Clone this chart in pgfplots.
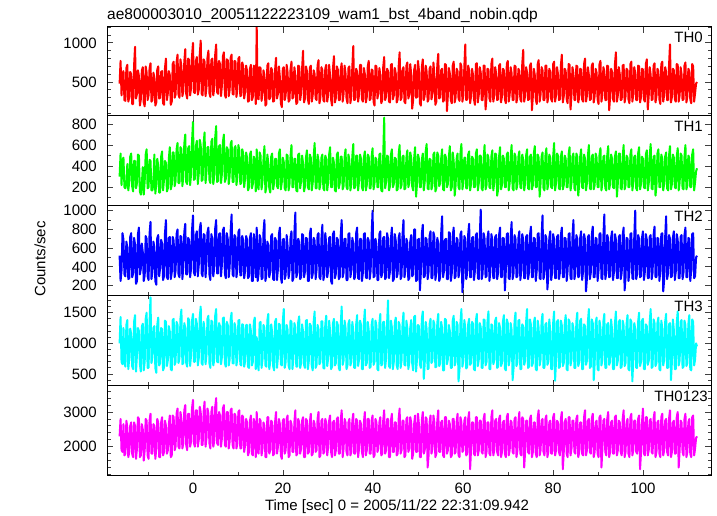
\documentclass[border=0pt]{standalone}
\usepackage{fontspec}
\setmainfont{Liberation Sans}
\usepackage{pgfplots}
\usepackage{pgfplotstable}
\pgfplotsset{compat=1.18}
\definecolor{cR}{RGB}{255,0,0}
\definecolor{cG}{RGB}{0,255,0}
\definecolor{cB}{RGB}{0,0,255}
\definecolor{cC}{RGB}{0,255,255}
\definecolor{cM}{RGB}{255,0,255}

\pgfplotstableread{
a b c d e
480 300 520 1000 2300
770 520 250 1430 2800
330 220 360 700 1900
600 460 760 660 1850
640 480 690 1250 2650
270 200 320 700 1750
260 190 300 620 1800
680 240 670 1300 2750
720 420 610 1380 2550
250 170 270 580 1700
310 250 280 760 1850
630 490 720 1240 2600
600 520 760 1150 2700
220 210 290 630 1800
220 160 330 580 1700
710 450 710 1350 2700
950 450 640 1460 2600
290 190 220 540 1650
350 240 250 820 1950
650 510 750 1250 2850
580 500 820 1200 2800
200 160 320 660 1700
280 130 380 540 1750
640 220 650 1270 2650
690 390 560 1320 2500
240 130 250 560 1600
190 260 310 700 1900
700 510 730 1400 2800
620 560 700 1500 2750
270 190 300 600 1750
330 200 260 600 1650
670 460 750 1330 2750
740 450 880 1750 2950
250 170 270 680 1800
270 170 350 780 1800
620 240 670 1250 2650
560 510 610 1280 2600
200 140 250 600 1650
240 230 210 520 1950
660 470 710 1300 2800
700 400 740 1420 2700
290 150 300 640 1700
300 150 390 680 1700
630 490 690 1250 2700
640 540 650 1230 2850
230 170 260 560 1750
210 270 300 610 1850
680 450 760 1370 2750
800 430 900 1350 2600
270 160 290 630 1800
360 190 270 730 1900
640 470 710 1280 2650
590 580 720 1190 2900
210 180 270 580 1700
250 220 340 560 1750
730 530 720 1380 2900
760 530 680 1400 2850
300 210 290 650 1900
340 260 360 700 2000
750 560 750 1350 2950
850 620 800 1300 3100
340 240 320 680 2000
300 240 290 760 1950
790 580 730 1400 3000
700 560 720 1550 2800
320 210 270 660 1950
380 300 400 680 2100
760 610 770 1330 3050
920 700 860 1250 3200
350 250 320 680 2050
290 230 320 620 1900
800 570 710 1410 2950
780 590 690 1380 2950
330 220 290 630 2000
420 320 380 800 2150
830 630 790 1370 3100
1000 820 950 1480 3350
370 270 340 700 2100
360 280 310 700 2000
770 590 740 1400 3050
820 640 780 1320 3050
340 230 300 640 2000
400 330 420 760 2200
850 650 800 1430 3150
1030 600 870 1600 3000
350 260 330 680 2050
330 270 300 650 2050
790 610 750 1350 3000
760 720 740 1200 3300
320 240 290 660 2000
440 350 450 820 2250
810 580 770 1400 3100
900 580 820 1450 2950
360 270 320 680 2100
310 240 260 600 1950
780 630 750 1370 3000
800 660 700 1350 3150
330 230 300 640 2000
420 300 390 730 2150
850 670 810 1450 3150
980 780 900 1560 3400
370 250 330 700 2100
350 260 330 690 2050
770 590 750 1330 3000
730 600 760 1280 2900
320 240 300 660 2000
460 330 430 780 2250
830 630 790 1410 3100
880 700 820 1420 3200
340 250 330 680 2050
300 280 280 620 2000
790 580 760 1350 3000
780 560 700 1300 3000
320 230 290 640 1950
400 310 400 740 2150
810 610 780 1390 3050
850 640 960 1500 3100
350 250 320 680 2050
340 250 300 670 1950
770 570 740 1330 2950
760 590 720 1250 2900
310 220 290 640 1950
420 300 380 760 2100
800 600 770 1370 3000
820 550 800 1380 3050
320 230 310 660 1950
330 240 310 640 1950
750 560 730 1310 2900
700 520 680 1300 2850
290 200 280 620 1850
380 290 360 710 2050
710 530 730 1300 2800
640 480 690 1300 2700
250 170 280 620 1750
260 200 300 600 1850
670 510 710 1310 2750
720 540 760 1200 2900
270 190 250 640 1800
310 230 250 700 1750
710 490 750 1350 2800
600 450 640 1420 2650
220 160 290 580 1700
1200 560 820 1100 3000
290 210 250 680 1850
280 180 330 560 1800
690 530 740 1330 2800
680 500 700 1350 2750
260 180 270 600 1750
350 260 280 740 1950
650 460 770 1300 2700
590 590 900 1250 2600
200 150 250 640 1700
220 210 320 620 1700
710 510 670 1370 2850
740 430 630 1480 2850
280 190 290 580 1800
300 150 350 700 1900
680 490 730 1310 2750
650 520 750 1180 2700
250 180 270 630 1750
260 240 260 560 1800
650 470 710 1350 2700
810 470 680 1400 3000
290 210 260 600 1800
350 190 380 780 2000
700 520 750 1320 2800
560 560 820 1300 2650
230 180 290 660 1750
180 250 230 640 1650
670 480 690 1350 2750
690 440 700 1560 2800
270 190 270 600 1800
330 170 310 700 1900
720 510 740 1300 2800
620 500 620 1220 2900
250 170 280 640 1700
270 230 360 580 1750
660 490 710 1370 2750
760 600 780 1350 2650
290 200 250 580 1850
310 200 280 760 1850
690 470 760 1330 2700
580 470 980 1260 3050
220 170 290 620 1750
240 160 330 620 1800
710 510 700 1350 2800
700 520 660 1440 2700
270 190 270 600 1800
360 260 290 680 1950
670 500 750 1310 2750
900 430 740 1190 2850
240 160 290 650 1700
290 210 350 600 1700
700 480 710 1370 2800
640 550 700 1380 2750
280 200 250 580 1800
220 180 250 720 1850
680 510 750 1320 2700
710 480 810 1290 2950
250 170 280 640 1750
330 240 320 560 1800
650 490 710 1350 2750
600 620 680 1520 2650
290 190 270 600 1850
270 190 370 650 1900
710 510 740 1300 2800
780 450 760 1230 3000
230 180 290 660 1700
310 230 270 700 1750
690 480 700 1360 2750
650 510 850 1360 2800
270 190 260 600 1800
250 170 310 590 1850
670 500 760 1310 2800
720 470 640 1450 2700
250 170 290 630 1750
340 250 360 760 2000
720 510 710 1370 2750
580 580 720 1200 2900
280 200 250 580 1850
200 200 220 620 1700
680 480 750 1330 2700
830 430 780 1400 2750
240 170 280 640 1750
300 160 330 680 1900
700 510 710 1350 2800
660 530 690 1300 2850
270 190 270 600 1800
270 240 290 560 1800
660 490 740 1300 2750
740 490 900 1600 3050
250 180 290 650 1700
350 210 340 720 1950
710 480 700 1370 2800
610 560 700 1250 2700
290 200 260 580 1850
230 180 260 640 1750
680 510 750 1320 2700
700 450 760 1380 2800
230 170 290 640 1750
320 230 360 700 1850
690 490 710 1350 2750
960 610 650 1200 2950
270 190 270 600 1800
280 200 300 600 1800
670 500 760 1310 2800
630 500 820 1460 2750
250 170 280 630 1700
340 260 270 740 1950
720 510 700 1370 2750
720 470 700 1300 2650
280 200 250 580 1850
250 170 340 580 1700
680 480 750 1330 2700
600 540 760 1550 3000
240 170 290 640 1750
310 220 280 680 1900
700 510 710 1350 2800
770 490 680 1220 2800
270 190 270 600 1800
290 190 360 620 1800
660 490 740 1300 2750
650 570 1000 1400 2900
250 180 290 650 1700
200 240 300 700 1750
710 480 700 1370 2800
700 460 640 1280 2700
290 200 260 580 1850
360 200 260 560 1950
680 510 750 1320 2700
590 520 780 1480 2850
230 170 290 640 1750
270 160 330 660 1800
690 490 710 1350 2750
820 860 720 1350 3050
270 190 270 600 1800
320 250 290 760 1900
670 500 760 1310 2800
640 490 700 1700 2800
250 170 280 630 1700
240 210 350 600 1700
720 510 700 1370 2750
730 560 820 1260 2950
280 200 250 580 1850
330 230 270 700 1850
680 480 750 1330 2700
610 470 680 1420 2700
240 170 290 640 1750
280 180 330 580 1800
700 510 710 1350 2800
880 600 760 1300 3100
270 190 270 600 1800
300 220 300 720 1900
660 490 740 1300 2750
690 500 900 1500 2750
250 180 290 650 1700
230 190 360 640 1750
710 480 700 1370 2800
750 550 660 1240 2850
290 200 260 580 1850
340 240 280 690 1950
730 530 670 1250 2850
600 480 740 1380 2700
160 210 300 680 1650
270 170 320 560 1800
650 470 800 1430 2650
720 580 800 1450 2900
300 110 250 540 1850
310 230 260 740 1850
770 510 690 1300 2950
650 470 700 1280 2650
230 200 150 660 1700
200 200 340 600 1700
690 460 750 1400 2750
790 520 850 1520 3000
270 170 290 420 1800
330 250 300 680 1900
710 540 710 1350 2850
630 610 690 1230 2800
250 190 270 580 1400
280 180 350 590 1750
670 470 730 1310 2700
700 460 780 1400 2900
280 180 280 680 1800
350 220 280 720 1950
750 510 770 1370 2900
590 530 720 1310 2700
210 160 260 610 1700
250 190 330 620 1800
710 530 710 1330 2750
860 500 650 1480 3050
290 210 250 630 1850
310 240 290 680 1850
650 470 750 1350 2700
670 560 940 1250 2750
250 180 290 560 1750
270 170 360 560 1700
730 510 690 1400 2850
720 480 700 1380 2850
130 200 270 660 1800
340 230 270 740 1900
680 490 770 1300 2750
610 590 760 1200 2650
270 170 250 600 1700
230 200 330 600 1750
710 530 730 1370 2800
760 450 820 1450 2800
240 120 280 640 1800
300 220 300 700 1850
670 470 710 1350 2700
640 520 690 1300 2950
290 200 290 380 1750
260 180 350 580 1700
740 520 750 1330 2850
700 610 780 1560 2700
250 180 130 620 1850
330 240 260 720 1900
690 480 730 1380 2750
980 480 700 1250 2850
270 190 270 590 1750
280 190 340 620 1800
710 510 750 1310 2800
650 540 860 1400 3000
230 170 290 650 1350
320 230 290 680 1950
670 490 710 1350 2700
590 470 720 1320 2700
280 200 260 580 1800
210 200 360 560 1750
730 520 740 1370 2850
740 560 760 1480 2850
240 170 280 630 1750
340 240 270 740 1900
690 500 720 1330 2750
620 500 1010 1260 2750
270 190 270 600 1850
270 170 330 600 1800
710 470 760 1390 2800
710 600 700 1380 2950
150 180 290 640 1700
310 220 300 700 1850
670 510 710 1350 2700
660 480 780 1520 2700
290 200 250 580 1800
250 190 350 580 1750
730 490 750 1310 2850
800 550 690 1290 3050
250 170 280 660 1750
330 240 280 720 1900
690 520 720 1370 2750
600 510 740 1420 2800
270 120 270 600 1850
280 180 340 620 1750
710 490 740 1330 2800
730 580 820 1250 2900
240 180 290 630 1700
320 220 290 680 1850
670 500 710 1350 2700
650 470 700 1460 2750
280 200 150 590 1800
230 200 360 560 1700
730 510 750 1390 2850
770 530 760 1330 2950
250 170 280 640 1750
340 240 270 740 1900
690 490 720 1330 2750
610 600 880 1220 2700
270 190 270 400 1850
270 170 330 600 1800
710 520 740 1350 2800
700 490 700 1500 2850
240 180 290 630 1700
310 230 300 700 1900
670 490 710 1370 2700
640 540 780 1380 3000
280 200 260 580 1800
250 190 350 580 1750
730 510 750 1310 2850
910 460 690 1280 2800
250 170 280 650 1400
330 240 280 720 1900
690 500 720 1350 2750
620 560 740 1560 2750
270 190 270 600 1850
280 180 340 620 1800
710 490 740 1390 2800
740 510 830 1300 2900
140 180 290 630 1700
320 220 290 680 1850
670 520 710 1330 2700
590 590 700 1420 2700
280 200 250 580 1800
220 200 360 560 1700
730 510 750 1370 2850
780 480 760 1250 3050
250 110 280 640 1750
340 240 270 740 1900
690 490 720 1350 2750
650 530 950 1480 2800
270 190 270 600 1850
270 170 330 600 1750
710 500 740 1310 2800
710 570 700 1330 2900
240 180 160 650 1700
310 230 300 700 1850
670 510 710 1390 2700
630 480 780 1200 2750
280 200 260 580 1800
250 190 350 580 1800
730 490 750 1330 2850
760 620 690 1520 2950
250 170 280 390 1750
330 240 280 720 1900
690 520 720 1350 2750
600 500 740 1380 2700
270 190 270 600 1850
280 180 340 620 1750
710 490 740 1370 2800
850 540 820 1290 3000
240 180 290 630 1350
320 220 290 680 1850
670 500 710 1310 2700
640 470 700 1460 2800
280 200 250 580 1800
230 200 360 560 1700
730 510 750 1390 2850
720 580 760 1350 2850
150 170 280 640 1750
340 240 270 740 1950
690 490 720 1330 2750
610 520 900 1240 2750
270 190 270 600 1850
270 170 330 600 1800
710 520 740 1350 2800
700 490 700 1500 2900
240 120 290 630 1700
310 230 300 700 1850
670 490 710 1370 2700
660 560 780 1400 2700
280 200 260 580 1800
250 190 350 580 1750
730 510 750 1310 2850
800 470 690 1280 3050
250 170 140 650 1750
330 240 280 720 1900
690 500 720 1350 2750
590 600 740 1560 2800
270 190 270 600 1850
280 180 340 620 1800
710 490 740 1390 2800
740 510 830 1330 2950
240 180 290 400 1700
320 220 290 680 1850
670 520 710 1330 2700
620 480 700 1420 2750
280 200 250 580 1800
220 200 360 560 1700
730 510 750 1370 2850
770 570 760 1250 2900
250 170 280 640 1400
340 240 270 740 1950
690 490 720 1350 2750
640 500 960 1480 2800
270 190 270 600 1850
270 170 330 600 1750
710 500 740 1310 2800
700 590 700 1330 3000
140 180 290 650 1700
310 230 300 700 1850
670 510 710 1390 2700
630 470 780 1220 2750
280 200 260 580 1800
250 190 350 580 1800
730 490 750 1330 2850
880 540 690 1520 2900
250 110 280 640 1750
330 240 280 720 1900
690 520 720 1350 2750
600 520 740 1380 2700
270 190 270 600 1850
280 180 340 620 1750
710 490 740 1370 2800
720 600 820 1290 3050
240 180 150 630 1700
320 220 290 680 1850
670 500 710 1310 2700
650 480 700 1460 2800
280 200 250 580 1800
230 200 360 560 1700
730 510 750 1390 2850
760 560 760 1350 2950
250 170 280 380 1750
340 240 270 740 1900
690 490 720 1330 2750
610 500 1000 1240 2750
270 190 270 600 1850
270 170 330 600 1800
710 520 740 1350 2800
700 580 700 1500 2900
240 180 290 630 1350
310 230 300 700 1850
670 490 710 1370 2700
660 470 780 1400 3100
280 200 260 580 1800
250 190 350 580 1750
730 510 750 1310 2850
790 550 690 1280 2850
150 170 280 650 1750
330 240 280 720 1900
690 500 720 1350 2750
590 610 740 1560 2800
270 190 270 600 1850
280 180 340 620 1800
710 490 740 1390 2800
740 500 830 1330 3000
240 120 290 630 1700
320 220 290 680 1850
670 520 710 1330 2700
640 560 700 1420 2750
280 200 250 580 1800
220 200 360 560 1700
730 510 750 1370 2850
760 470 760 1250 2950
250 170 140 640 1750
340 240 270 740 1900
690 490 720 1350 2750
630 530 940 1480 2800
270 190 270 600 1850
270 170 330 600 1750
710 500 740 1310 2800
980 590 700 1330 3050
240 180 290 400 1700
310 230 300 700 1850
670 510 710 1390 2700
650 480 780 1220 2750
280 200 260 580 1800
250 190 350 580 1800
730 490 750 1330 2850
720 570 690 1520 3000
250 170 280 640 1400
330 240 280 720 1900
690 520 720 1350 2750
600 500 740 1380 2700
270 190 270 600 1850
280 180 340 620 1750
710 490 740 1370 2800
750 600 820 1290 2950
240 180 290 630 1700
320 220 290 680 1850
670 500 710 1310 2700
640 480 700 1460 2800
280 200 250 580 1800
230 200 360 560 1700
730 510 750 1390 2850
700 560 760 1350 2900
250 170 280 640 1750
360 250 300 740 1950
480 350 500 1000 2250
500 380 520 950 2300
}\lc
\pgfplotstablegetrowsof{\lc}
\pgfmathsetmacro{\tstep}{128.3/(\pgfplotsretval-1)}

\pgfplotsset{
  panel/.style={
    width=604pt, height=90pt, scale only axis,
    xmin=-19.1, xmax=115.1,
    xtick={0,20,...,100}, minor xtick={-10,10,30,50,70,90,110},
    xticklabels={},
    tick align=inside,
    major tick length=6pt, minor tick length=3.5pt,
    axis line style={line width=1pt, black},
    every tick/.style={line width=0.9pt, black!75},
    tick label style={font=\fontsize{15}{18}\selectfont},
    /pgf/number format/assume math mode=true,
    /pgf/number format/set thousands separator={},
    yticklabel style={inner sep=0pt, xshift=-10pt},
    xticklabel style={inner sep=0pt, yshift=-7pt},
    axis on top,
    clip=true,
  },
  dat/.style={line width=2pt, line join=round},
}

\begin{document}
\begin{tikzpicture}
\path (0pt,0pt) rectangle (717pt,516pt);
% TH0
\begin{axis}[panel, at={(107pt,400pt)}, anchor=south west, height=89pt,
  ymin=67, ymax=1203, ytick={500,1000}, minor ytick={100,200,...,1200}]
\addplot[dat, cR] table[x expr={-16.3+\coordindex*\tstep}, y=a] {\lc};
\node[anchor=north east, inner sep=0pt, font=\fontsize{15}{18}\selectfont] at (rel axis cs:0.9868,1) [yshift=-5pt] {TH0};
\end{axis}
% TH1
\begin{axis}[panel, at={(107pt,310pt)}, anchor=south west,
  ymin=22, ymax=876, ytick={200,400,600,800}, minor ytick={100,300,500,700}]
\addplot[dat, cG] table[x expr={-16.3+\coordindex*\tstep}, y=b] {\lc};
\node[anchor=north east, inner sep=0pt, font=\fontsize{15}{18}\selectfont] at (rel axis cs:0.9868,1) [yshift=-5pt] {TH1};
\end{axis}
% TH2
\begin{axis}[panel, at={(107pt,220pt)}, anchor=south west,
  ymin=90, ymax=1050, ytick={200,400,...,1000}, minor ytick={100,300,...,900}]
\addplot[dat, cB] table[x expr={-16.3+\coordindex*\tstep}, y=c] {\lc};
\node[anchor=north east, inner sep=0pt, font=\fontsize{15}{18}\selectfont] at (rel axis cs:0.9868,1) [yshift=-5pt] {TH2};
\end{axis}
% TH3
\begin{axis}[panel, at={(107pt,130pt)}, anchor=south west,
  ymin=305, ymax=1772, ytick={500,1000,1500}, minor ytick={400,500,...,1700}]
\addplot[dat, cC] table[x expr={-16.3+\coordindex*\tstep}, y=d] {\lc};
\node[anchor=north east, inner sep=0pt, font=\fontsize{15}{18}\selectfont] at (rel axis cs:0.9868,1) [yshift=-5pt] {TH3};
\end{axis}
% TH0123
\begin{axis}[panel, at={(107pt,40pt)}, anchor=south west,
  ymin=1156, ymax=3750, ytick={2000,3000}, minor ytick={1200,1400,...,3600},
  xticklabels={0,20,40,60,80,100}]
\addplot[dat, cM] table[x expr={-16.3+\coordindex*\tstep}, y=e] {\lc};
\node[anchor=north east, inner sep=0pt, font=\fontsize{15}{18}\selectfont] at (rel axis cs:0.995,1) [yshift=-5pt] {TH0123};
\end{axis}
\node[anchor=base west, inner sep=0pt, font=\fontsize{15.5}{18}\selectfont] at (107pt,496pt) {ae800003010\_20051122223109\_wam1\_bst\_4band\_nobin.qdp};
\node[rotate=90, inner sep=0pt, font=\fontsize{15}{18}\selectfont] at (40pt,257pt) {Counts/sec};
\node[anchor=base, inner sep=0pt, font=\fontsize{15}{18}\selectfont] at (397pt,5pt) {Time [sec] 0 = 2005/11/22 22:31:09.942};
\end{tikzpicture}
\end{document}
